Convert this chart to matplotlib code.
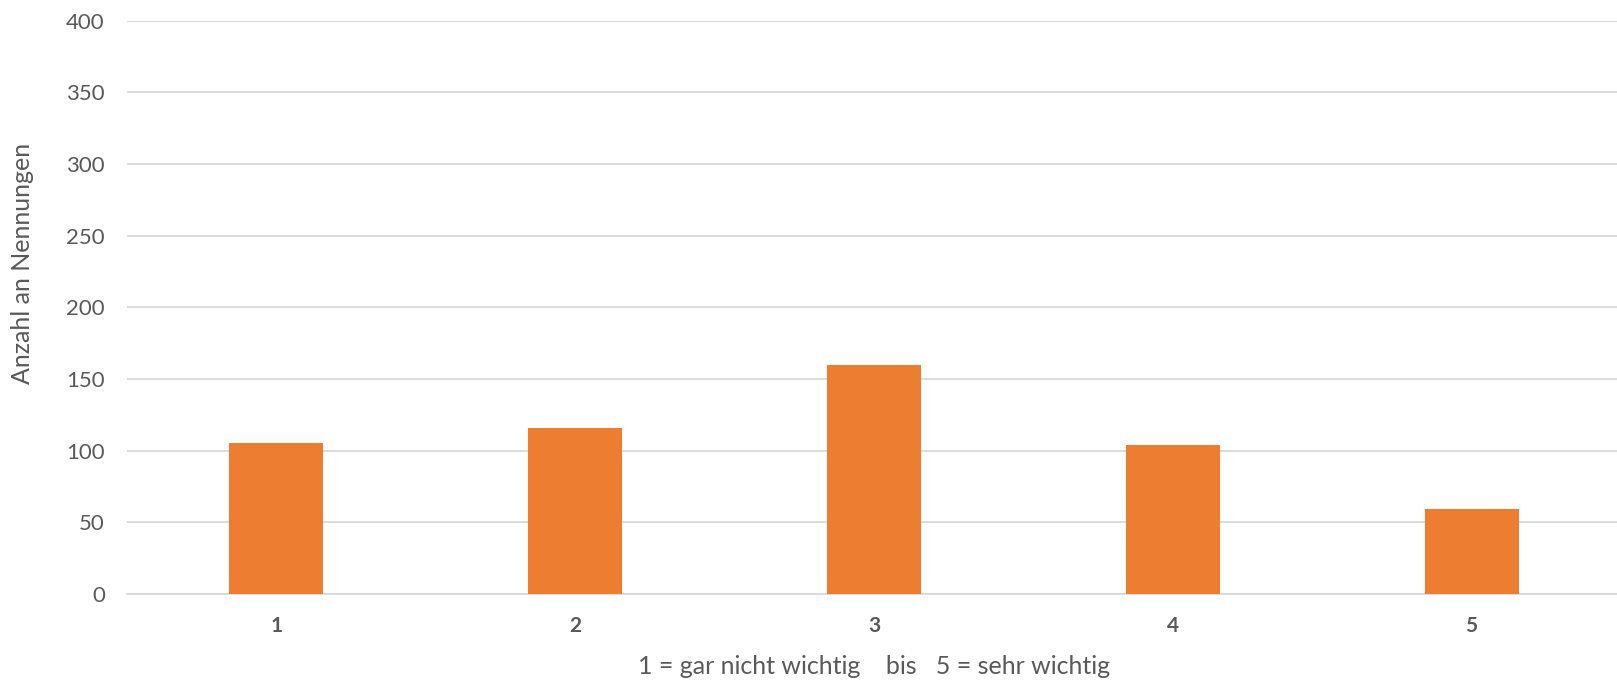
import matplotlib.pyplot as plt
import numpy as np

# Bewertung 1..5, Anzahl an Nennungen
categories = ['1', '2', '3', '4', '5']
counts = [105, 116, 160, 104, 59]
yticks = [0, 50, 100, 150, 200, 250, 300, 350, 400]

plt.rcParams['font.family'] = ['Lato', 'DejaVu Sans']

W, H = 1617, 680
fig = plt.figure(figsize=(W/100, H/100), dpi=100)
left, right = 127/W, 1621/W
bottom, top = 1 - 594/H, 1 - 20.6/H
ax = fig.add_axes([left, bottom, right-left, top-bottom])

x = np.arange(len(categories))
ax.bar(x, counts, width=0.315, color='#ED7D31', zorder=3)

ax.set_xlim(-0.5, len(categories)-0.5)
ax.set_ylim(0, 400)
ax.set_yticks(yticks)
ax.set_yticklabels([str(v) for v in yticks], fontsize=16, color='#595959')
ax.set_xticks(x)
ax.set_xticklabels(categories, fontsize=15, fontweight='bold', color='#595959')
ax.tick_params(axis='y', length=0, pad=16)
ax.tick_params(axis='x', length=0, pad=16)
ax.grid(axis='y', color='#d9d9d9', linewidth=1.3, zorder=0)
for s in ['top', 'right', 'left']:
    ax.spines[s].set_visible(False)
ax.spines['bottom'].set_color('#d9d9d9')
ax.spines['bottom'].set_linewidth(1.3)

fig.text(23/W, 1 - 263/H, 'Anzahl an Nennungen', rotation=90, ha='center',
         va='center', fontsize=18, color='#595959')
fig.text(874/W, 1 - 666/H, '1 = gar nicht wichtig    bis   5 = sehr wichtig',
         ha='center', va='center', fontsize=18, color='#595959')

fig.savefig('out.png', dpi=100)
